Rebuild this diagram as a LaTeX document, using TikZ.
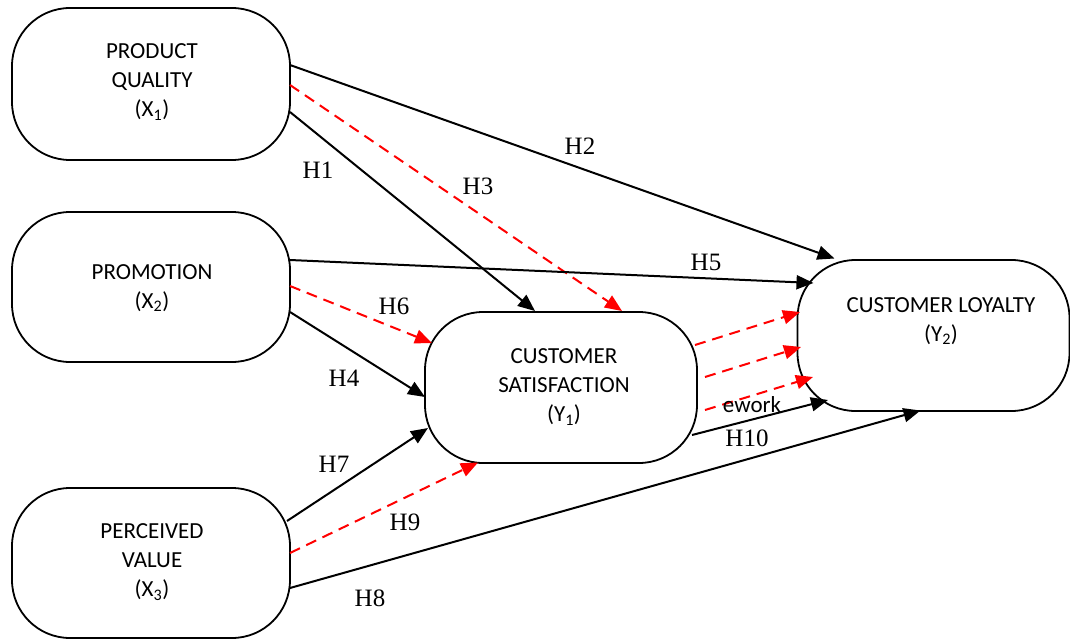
\documentclass[tikz,border=0pt]{standalone}
\usepackage{fontspec}
\setmainfont{Liberation Serif}
\newfontfamily\boxfont{Carlito}
\usetikzlibrary{arrows.meta,calc}
\begin{document}
\begin{tikzpicture}[x=1pt,y=-1pt,
  stadium/.style={draw=black,line width=1.8pt,rounded corners=58pt,inner sep=0pt,fill=white},
  boxtext/.style={font=\boxfont\fontsize{23}{29}\selectfont,align=center,inner sep=0pt},
  hlab/.style={font=\fontsize{25}{25}\selectfont,inner sep=0pt},
  conn/.style={line width=2pt,-{Triangle[length=17pt,width=14pt]}},
  med/.style={conn,red,dash pattern=on 11pt off 7pt},
  solid/.style={conn,black}]
\useasboundingbox (0,0) rectangle (1070,639);
% boxes
\node[stadium,minimum width=278pt,minimum height=152pt] (pq) at (151,84) {};
\node[stadium,minimum width=278pt,minimum height=150pt] (pr) at (151,287) {};
\node[stadium,minimum width=278pt,minimum height=150pt] (pv) at (151,563) {};
\node[stadium,minimum width=272pt,minimum height=151pt] (cs) at (561,387.5) {};
\node[stadium,minimum width=272pt,minimum height=151pt] (cl) at (933.5,335.5) {};
% box texts
\node[boxtext] (pqt) at (152,82) {PRODUCT\\QUALITY\\(X\textsubscript{1})};
\node[boxtext] (prt) at (152,288) {PROMOTION\\(X\textsubscript{2})};
\node[boxtext] (pvt) at (152,562) {PERCEIVED\\VALUE\\(X\textsubscript{3})};
\node[boxtext] (cst) at (564,387) {CUSTOMER\\SATISFACTION\\(Y\textsubscript{1})};
\node[boxtext] (clt) at (941,321) {CUSTOMER LOYALTY\\(Y\textsubscript{2})};
% connectors
\draw[solid] ([shift={(139,-19)}]pq.center) -- ([shift={(-99,-77)}]cl.center);
\draw[med]   ([shift={(139,1)}]pq.center) -- ([shift={(61,-76.5)}]cs.center);
\draw[solid] ([shift={(139,28)}]pq.center) -- ([shift={(-26,-76.5)}]cs.center);
\draw[solid] ([shift={(139,-27)}]pr.center) -- ([shift={(-120,-52.5)}]cl.center);
\draw[med]   ([shift={(139,-1)}]pr.center) -- ([shift={(-129,-44.5)}]cs.center);
\draw[solid] ([shift={(139,25)}]pr.center) -- ([shift={(-136,9.5)}]cs.center);
\draw[solid] ([shift={(136,-42)}]pv.center) -- ([shift={(-133,40.5)}]cs.center);
\draw[med]   ([shift={(139,-10)}]pv.center) -- ([shift={(-83,75)}]cs.center);
\draw[solid] ([shift={(139,25)}]pv.center) -- ([shift={(-13,75)}]cl.center);
\draw[solid] ([shift={(131,47.5)}]cs.center) -- ([shift={(-105.5,64.5)}]cl.center);
\draw[med]   ([shift={(134,-42.5)}]cs.center) -- ([shift={(-133.5,-23.5)}]cl.center);
\draw[med]   ([shift={(144,-10.5)}]cs.center) -- ([shift={(-132.5,11.5)}]cl.center);
\draw[med]   ([shift={(144,22.5)}]cs.center) -- ([shift={(-120.5,41.5)}]cl.center);
% labels
\node[hlab] (h1) at (318,170) {H1};
\node[hlab] (h2) at (580,146) {H2};
\node[hlab] (h3) at (478,186) {H3};
\node[hlab] (h4) at (344,378) {H4};
\node[hlab] (h5) at (706,262) {H5};
\node[hlab] (h6) at (394,306) {H6};
\node[hlab] (h7) at (334,464) {H7};
\node[hlab] (h8) at (370,598) {H8};
\node[hlab] (h9) at (405,522) {H9};
\node[hlab] (h10) at (747,438) {H10};
\node[font=\boxfont\fontsize{23}{23}\selectfont,inner sep=0pt,anchor=base] (ew) at (752,412) {ework};
\end{tikzpicture}
\end{document}
